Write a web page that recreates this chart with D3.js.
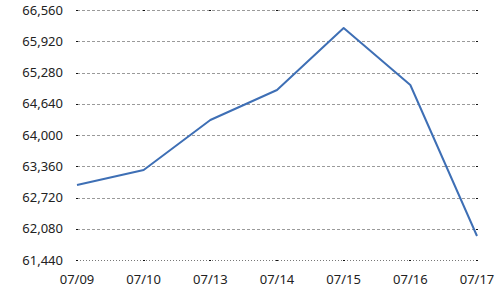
<!DOCTYPE html>
<html>
<head>
<meta charset="utf-8">
<script src="https://d3js.org/d3.v7.min.js"></script>
<style>
  body { margin: 0; background: #fff; }
  text { font-family: "Noto Sans", sans-serif; font-size: 13px; fill: #222; }
</style>
</head>
<body>
<svg id="chart" width="500" height="300"></svg>
<script>
// data
var dates = ["07/09", "07/10", "07/13", "07/14", "07/15", "07/16", "07/17"];
var closes = [62976, 63283, 64307, 64922, 66191, 65024, 61932];
var yTicks = [61440, 62080, 62720, 63360, 64000, 64640, 65280, 65920, 66560];

var margin = {top: 10, right: 23, bottom: 40, left: 77},
    width = 500 - margin.left - margin.right,
    height = 300 - margin.top - margin.bottom;

var svg = d3.select("#chart")
  .append("g")
    .attr("transform", "translate(" + margin.left + "," + margin.top + ")");

var x = d3.scalePoint().domain(dates).range([0, width]);
var y = d3.scaleLinear().domain([61440, 66560]).range([height, 0]);

// horizontal grid
svg.selectAll(".grid")
  .data(yTicks)
  .enter().append("line")
    .attr("x1", 0).attr("x2", width)
    .attr("y1", function(d) { return Math.round(y(d)) + 0.5; })
    .attr("y2", function(d) { return Math.round(y(d)) + 0.5; })
    .attr("stroke", function(d, i) { return i == 0 ? "#777" : "#9a9a9a"; })
    .attr("stroke-dasharray", function(d, i) { return i == 0 ? "1,2" : "3,2"; });

// little tick marks at the ends of each grid line
svg.selectAll(".tl")
  .data(yTicks)
  .enter().append("rect")
    .attr("x", -1).attr("width", 2).attr("height", 1)
    .attr("y", function(d) { return Math.round(y(d)); })
    .attr("fill", "#111");
svg.selectAll(".tr")
  .data(yTicks)
  .enter().append("rect")
    .attr("x", width - 1).attr("width", 2).attr("height", 1)
    .attr("y", function(d) { return Math.round(y(d)); })
    .attr("fill", "#111");
svg.selectAll(".tb")
  .data(dates)
  .enter().append("rect")
    .attr("x", function(d) { return Math.round(x(d)) - 1; })
    .attr("width", 2).attr("height", 1)
    .attr("y", Math.round(y(61440)))
    .attr("fill", "#111");
svg.selectAll(".tt")
  .data(dates)
  .enter().append("rect")
    .attr("x", function(d) { return Math.round(x(d)) - 1; })
    .attr("width", 2).attr("height", 1)
    .attr("y", Math.round(y(66560)))
    .attr("fill", "#111");

// y labels
svg.selectAll(".yl")
  .data(yTicks)
  .enter().append("text")
    .attr("x", -14)
    .attr("y", function(d) { return y(d); })
    .attr("dy", "0.35em")
    .attr("text-anchor", "end")
    .text(d3.format(","));

// x labels
svg.selectAll(".xl")
  .data(dates)
  .enter().append("text")
    .attr("x", function(d) { return x(d); })
    .attr("y", height + 19)
    .attr("dy", "0.35em")
    .attr("text-anchor", "middle")
    .text(function(d) { return d; });

var line = d3.line()
  .x(function(d, i) { return x(dates[i]); })
  .y(function(d) { return y(d); });

svg.append("path")
  .datum(closes)
  .attr("d", line)
  .attr("fill", "none")
  .attr("stroke", "#3e6fb5")
  .attr("stroke-width", 2)
  .attr("stroke-linejoin", "round");
</script>
</body>
</html>
